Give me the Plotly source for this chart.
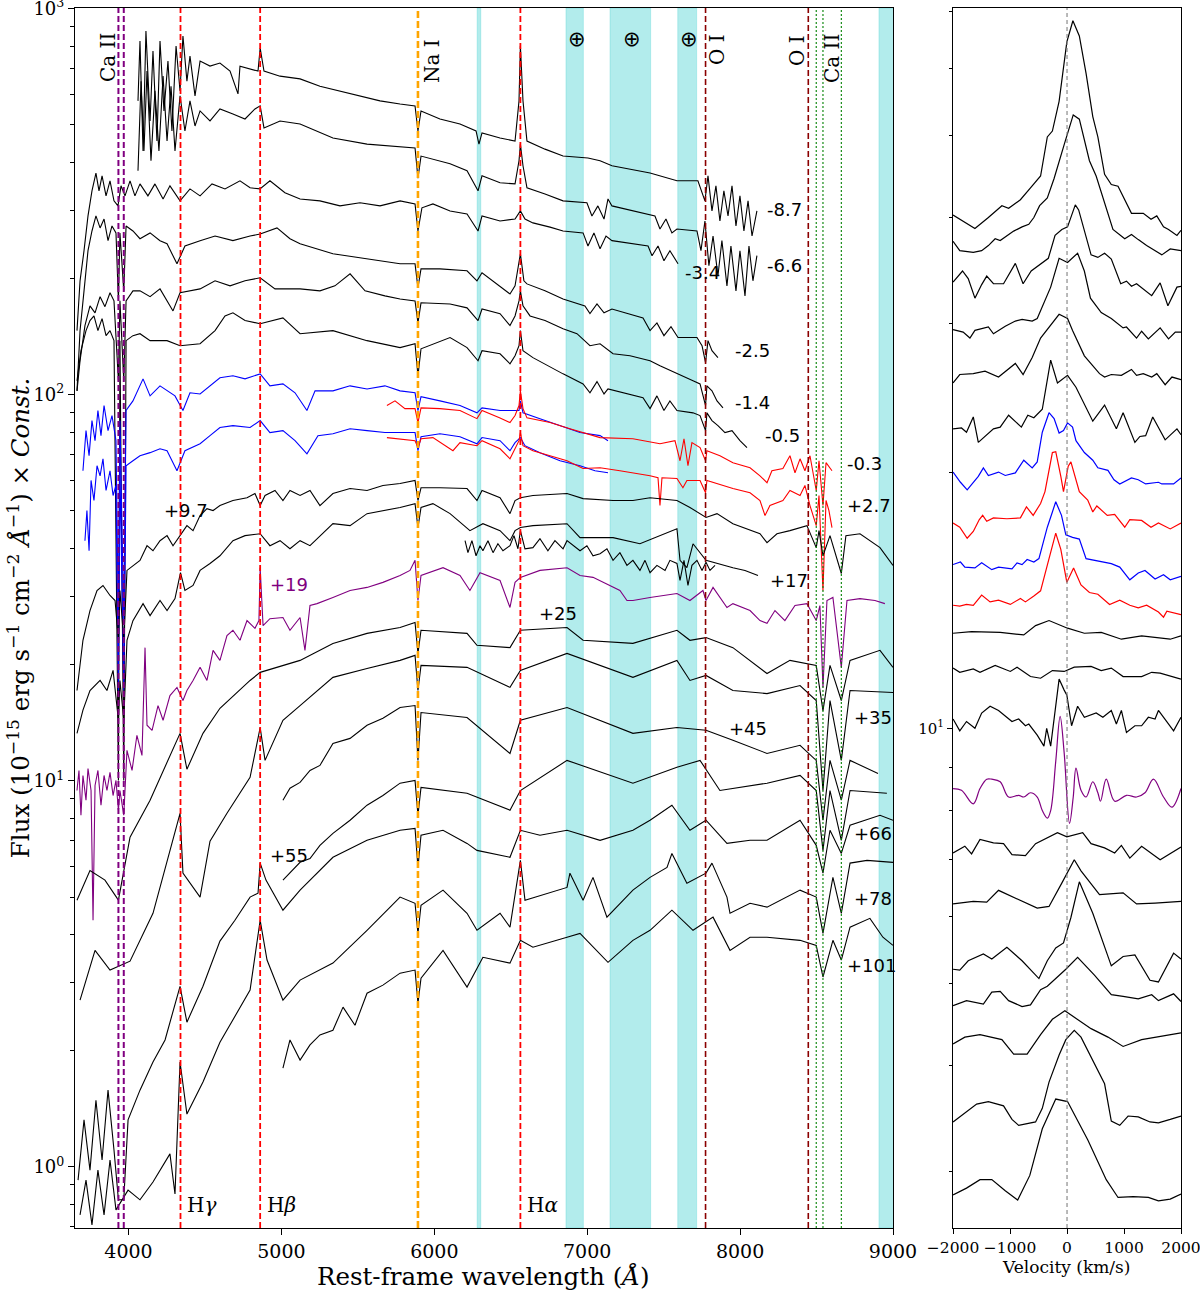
import numpy as np
import plotly.graph_objects as go

# ---------------- Left panel: spectra (wavelength in Angstrom, log10 flux) ----------------
wl_m87 = [4062,4075,4095,4114,4141,4160,4186,4206,4232,4258,4284,4311,4337,4356,4382,4402,4435,4468,4533,4598,4664,4716,4729,4795,4847,4861,4886,4991,5122,5252,5383,5514,5645,5776,5874,5893,5913,6037,6168,6273,6292,6312,6430,6528,6554,6563,6580,6606,6724,6842,7005,7084,7162,7411,7476,7587,7724,7770,7790,7816,7842,7868,7894,7921,7947,7973,7999,8025,8052,8078,8110]
lf_m87 = [2.761,2.916,2.631,2.942,2.709,2.890,2.657,2.916,2.735,2.864,2.683,2.903,2.787,2.929,2.812,2.877,2.774,2.864,2.851,2.859,2.838,2.779,2.851,2.843,2.838,2.898,2.838,2.825,2.818,2.799,2.787,2.774,2.761,2.753,2.748,2.683,2.735,2.714,2.701,2.683,2.649,2.678,2.665,2.657,2.761,2.903,2.761,2.657,2.636,2.618,2.613,2.606,2.593,2.574,2.567,2.554,2.554,2.502,2.567,2.476,2.541,2.450,2.528,2.463,2.541,2.437,2.515,2.424,2.502,2.411,2.476]

wl_m66 = [4062,4082,4101,4121,4147,4173,4199,4226,4252,4278,4304,4337,4369,4402,4435,4468,4533,4598,4683,4762,4827,4861,4886,4991,5122,5337,5560,5874,5893,5913,6103,6214,6286,6312,6430,6528,6554,6563,6580,6606,6724,6842,6998,7031,7070,7110,7136,7162,7443,7476,7515,7554,7587,7718,7744,7770,7796,7823,7855,7881,7914,7940,7973,7999,8032,8058,8084,8110]
lf_m66 = [2.580,2.812,2.631,2.838,2.606,2.787,2.631,2.825,2.657,2.799,2.631,2.774,2.683,2.761,2.696,2.735,2.709,2.740,2.727,2.714,2.740,2.748,2.691,2.709,2.701,2.665,2.649,2.639,2.561,2.618,2.598,2.580,2.528,2.567,2.549,2.546,2.606,2.649,2.593,2.536,2.520,2.502,2.497,2.463,2.489,2.455,2.507,2.489,2.463,2.429,2.455,2.419,2.429,2.424,2.373,2.450,2.334,2.411,2.308,2.399,2.282,2.385,2.269,2.373,2.256,2.385,2.295,2.360]

wl_m34 = [3663,3683,3709,3735,3761,3787,3807,3827,3853,3879,3905,3931,3951,3977,4010,4042,4075,4127,4173,4226,4271,4337,4402,4468,4546,4631,4729,4795,4860,4925,5023,5122,5252,5383,5514,5645,5776,5874,5893,5919,5991,6103,6214,6286,6312,6430,6528,6563,6593,6645,6757,6842,6973,7005,7044,7084,7123,7162,7398,7424,7463,7502,7541,7594]
lf_m34 = [2.166,2.295,2.373,2.463,2.528,2.574,2.528,2.567,2.515,2.554,2.502,2.489,2.541,2.515,2.554,2.515,2.546,2.515,2.546,2.507,2.541,2.502,2.533,2.515,2.546,2.533,2.554,2.536,2.533,2.554,2.523,2.507,2.502,2.489,2.497,2.489,2.502,2.494,2.424,2.484,2.494,2.476,2.468,2.424,2.463,2.450,2.455,2.476,2.455,2.445,2.434,2.424,2.419,2.385,2.419,2.378,2.411,2.399,2.385,2.360,2.385,2.347,2.373,2.339]

wl_m25 = [3663,3683,3709,3735,3761,3787,3814,3840,3866,3892,3918,3934,3944,3969,3984,4029,4075,4141,4206,4252,4317,4369,4468,4566,4683,4795,4861,4971,5056,5122,5337,5560,5776,5874,5893,5913,6037,6214,6279,6312,6430,6495,6528,6563,6586,6606,6724,6842,6985,7018,7064,7110,7162,7365,7411,7456,7502,7548,7594,7718,7751,7774,7790,7816,7855]
lf_m25 = [2.010,2.166,2.269,2.373,2.424,2.463,2.432,2.455,2.399,2.437,2.419,2.243,2.419,2.269,2.437,2.424,2.404,2.419,2.399,2.391,2.339,2.385,2.399,2.411,2.399,2.411,2.416,2.432,2.404,2.391,2.365,2.352,2.339,2.339,2.277,2.326,2.326,2.321,2.295,2.316,2.282,2.261,2.282,2.365,2.295,2.287,2.269,2.248,2.230,2.210,2.235,2.212,2.222,2.199,2.166,2.186,2.153,2.176,2.148,2.148,2.127,2.083,2.140,2.114,2.096]

wl_m14 = [3663,3683,3715,3748,3781,3814,3846,3879,3905,3934,3944,3969,3984,4029,4075,4141,4206,4291,4337,4402,4468,4566,4664,4762,4861,4958,5122,5252,5350,5449,5547,5677,5776,5874,5893,5913,6103,6214,6286,6312,6430,6495,6528,6554,6563,6580,6626,6724,6842,6933,7018,7084,7169,7280,7411,7476,7587,7692,7738,7774,7783,7816,7849,7888]
lf_m14 = [2.010,2.088,2.179,2.230,2.212,2.254,2.228,2.264,2.243,2.036,2.243,2.036,2.243,2.269,2.269,2.254,2.274,2.217,2.264,2.269,2.274,2.295,2.282,2.295,2.303,2.274,2.274,2.269,2.282,2.313,2.269,2.256,2.248,2.243,2.186,2.238,2.235,2.225,2.192,2.222,2.210,2.179,2.204,2.243,2.269,2.230,2.204,2.192,2.171,2.158,2.127,2.132,2.106,2.101,2.088,2.075,2.054,2.036,2.028,1.972,2.023,2.010,1.984,1.966]

wl_m05 = [3663,3689,3722,3748,3774,3800,3827,3853,3879,3905,3934,3944,3969,3984,4029,4075,4141,4252,4337,4468,4566,4631,4683,4762,4861,5010,5122,5337,5560,5776,5874,5893,5913,6103,6214,6286,6312,6430,6495,6528,6554,6563,6580,6645,6842,6973,7018,7064,7110,7136,7365,7411,7456,7502,7541,7587,7692,7738,7774,7783,7816,7855,7901,7947,7999,8045]
lf_m05 = [2.036,2.114,2.166,2.192,2.204,2.166,2.197,2.153,2.166,2.140,1.001,2.140,1.001,2.140,2.153,2.158,2.140,2.140,2.127,2.132,2.166,2.204,2.212,2.192,2.184,2.199,2.158,2.166,2.140,2.122,2.132,2.049,2.119,2.148,2.122,2.088,2.114,2.106,2.080,2.101,2.127,2.166,2.114,2.096,2.054,2.028,2.005,2.034,2.002,2.015,1.992,1.964,1.997,1.959,1.984,1.959,1.953,1.946,1.907,1.953,1.933,1.920,1.902,1.907,1.881,1.863]

wl_b1 = [3702,3722,3742,3761,3781,3800,3820,3840,3866,3892,3918,3934,3944,3969,3984,4029,4095,4141,4206,4252,4304,4356,4402,4468,4533,4598,4683,4762,4861,4925,5010,5089,5167,5220,5337,5449,5560,5677,5776,5874,5893,5913,6037,6168,6279,6312,6430,6554,6563,6580,6691,6822,6953,7084,7136]
lf_b1 = [1.803,1.907,1.842,1.933,1.881,1.959,1.894,1.972,1.907,1.946,1.881,1.415,1.933,1.415,1.959,1.984,2.041,1.997,2.023,2.010,1.997,1.959,2.005,2.002,2.023,2.044,2.049,2.041,2.054,2.023,2.028,2.005,1.959,2.010,2.010,2.023,2.015,2.023,2.010,2.005,1.959,1.995,1.984,1.972,1.953,1.966,1.959,1.959,1.984,1.953,1.938,1.920,1.902,1.894,1.881]

wl_r1 = [5690,5743,5808,5874,5893,5913,6037,6168,6279,6312,6430,6495,6528,6554,6563,6580,6606,6757,6887,6973,7084,7299,7476,7574,7607,7633,7659,7685,7738,7774,7783,7868,7953,8065,8130,8176,8208,8280,8326,8359,8392,8424,8457,8498,8516,8542,8562,8601]
lf_r1 = [1.972,1.984,1.964,1.964,1.928,1.966,1.964,1.959,1.938,1.959,1.940,1.928,1.946,1.972,2.010,1.964,1.940,1.928,1.912,1.902,1.889,1.886,1.873,1.881,1.829,1.886,1.816,1.876,1.863,1.829,1.855,1.842,1.824,1.811,1.790,1.772,1.803,1.809,1.842,1.798,1.834,1.803,1.842,1.752,1.829,1.713,1.824,1.803]

wl_b2 = [3715,3728,3742,3755,3774,3794,3814,3833,3853,3879,3899,3918,3934,3944,3969,3984,4029,4075,4141,4206,4252,4317,4369,4468,4533,4598,4683,4795,4861,4925,5010,5089,5167,5239,5337,5449,5560,5677,5776,5874,5893,5913,6037,6168,6279,6312,6430,6495,6528,6563,6593,6691,6822,6953,7051,7136]
lf_b2 = [1.622,1.700,1.596,1.778,1.726,1.816,1.790,1.834,1.752,1.803,1.739,1.765,1.234,1.803,1.234,1.816,1.829,1.842,1.850,1.860,1.855,1.803,1.855,1.873,1.894,1.915,1.920,1.915,1.933,1.902,1.907,1.881,1.847,1.894,1.899,1.912,1.907,1.902,1.902,1.902,1.855,1.891,1.899,1.891,1.873,1.889,1.881,1.855,1.876,1.889,1.868,1.850,1.829,1.816,1.803,1.798]

wl_r2 = [5690,5776,5874,5893,5913,5991,6122,6168,6279,6312,6430,6495,6528,6554,6563,6580,6645,6757,6868,6973,7084,7214,7299,7411,7463,7476,7489,7587,7626,7652,7738,7774,7783,7849,7953,8065,8130,8163,8195,8280,8326,8392,8424,8457,8498,8516,8542,8562,8581,8601]
lf_r2 = [1.889,1.886,1.881,1.863,1.886,1.889,1.855,1.876,1.868,1.881,1.860,1.834,1.860,1.881,1.902,1.868,1.855,1.842,1.829,1.809,1.811,1.803,1.798,1.790,1.785,1.713,1.785,1.783,1.759,1.778,1.778,1.746,1.778,1.770,1.757,1.746,1.726,1.687,1.713,1.726,1.752,1.739,1.765,1.713,1.661,1.739,1.493,1.726,1.700,1.656]

wl_p97 = [3663,3702,3748,3794,3833,3879,3912,3934,3944,3969,3990,4029,4075,4121,4160,4206,4252,4291,4337,4382,4422,4468,4513,4553,4598,4683,4775,4827,4861,4893,4958,5010,5056,5122,5187,5252,5337,5449,5560,5664,5776,5874,5893,5913,6037,6214,6279,6312,6430,6495,6528,6563,6645,6868,6973,7169,7299,7411,7587,7672,7777,7849,7953,8130,8176,8241,8326,8437,8498,8516,8542,8588,8662,8692,8784,8915,9000]
lf_p97 = [1.234,1.364,1.441,1.493,1.506,1.480,1.467,1.364,1.493,1.364,1.545,1.558,1.571,1.609,1.596,1.622,1.635,1.609,1.635,1.661,1.648,1.687,1.705,1.700,1.713,1.726,1.733,1.744,1.713,1.739,1.752,1.726,1.752,1.739,1.752,1.713,1.744,1.757,1.752,1.765,1.770,1.778,1.726,1.759,1.759,1.757,1.726,1.752,1.733,1.692,1.726,1.733,1.739,1.744,1.731,1.726,1.726,1.733,1.726,1.708,1.682,1.692,1.666,1.640,1.617,1.640,1.648,1.661,1.604,1.648,1.583,1.635,1.537,1.635,1.640,1.604,1.558]

wl_p17 = [3663,3702,3748,3814,3859,3899,3934,3944,3969,3990,4029,4095,4141,4206,4252,4304,4340,4369,4422,4468,4533,4598,4683,4762,4861,4925,4991,5056,5122,5187,5337,5449,5560,5664,5776,5874,5893,5913,5991,6103,6233,6318,6430,6495,6528,6563,6645,6868,6953,7169,7345,7587,7607,7652,7692,7777,7849,7953,8032,8117]
lf_p17 = [1.123,1.183,1.234,1.260,1.234,1.286,1.157,1.260,1.157,1.364,1.415,1.459,1.428,1.467,1.441,1.472,1.539,1.493,1.506,1.545,1.563,1.583,1.622,1.635,1.640,1.609,1.622,1.601,1.622,1.609,1.666,1.661,1.692,1.700,1.708,1.718,1.656,1.708,1.718,1.692,1.648,1.666,1.648,1.622,1.648,1.656,1.661,1.666,1.630,1.630,1.614,1.653,1.571,1.552,1.614,1.571,1.563,1.552,1.545,1.532]

wl_short = [6201,6220,6246,6273,6299,6318,6351,6384,6416,6449,6495,6521,6547,6563,6593,6645,6691,6743,6789,6842,6868,6907,6953,6998,7038,7084,7129,7169,7214,7260,7299,7345,7378,7411,7456,7509,7541,7587,7607,7633,7659,7685,7718,7751,7777,7803,7836]
lf_short = [1.622,1.591,1.622,1.583,1.609,1.596,1.622,1.591,1.614,1.596,1.609,1.635,1.601,1.648,1.601,1.604,1.627,1.596,1.622,1.601,1.622,1.609,1.596,1.609,1.583,1.588,1.601,1.571,1.591,1.558,1.571,1.545,1.571,1.539,1.558,1.545,1.571,1.563,1.519,1.571,1.506,1.558,1.571,1.545,1.566,1.545,1.558]

wl_p19 = [3663,3676,3689,3702,3722,3735,3755,3768,3781,3800,3820,3840,3859,3879,3899,3918,3934,3944,3969,3990,4023,4055,4088,4108,4121,4154,4193,4226,4271,4317,4356,4382,4422,4468,4513,4553,4598,4644,4683,4729,4775,4827,4853,4861,4880,4925,5010,5056,5122,5154,5187,5233,5337,5449,5560,5664,5776,5841,5874,5893,5913,6057,6168,6233,6299,6430,6495,6528,6563,6691,6868,6953,7038,7149,7214,7260,7299,7411,7587,7672,7757,7777,7823,7914,7953,8065,8130,8176,8228,8293,8359,8437,8498,8522,8542,8568,8607,8662,8699,8784,8882,8947]
lf_p19 = [0.975,1.027,0.911,1.014,0.950,1.032,0.975,0.639,0.988,1.027,0.937,1.014,0.975,1.022,0.962,1.001,0.924,0.975,0.911,1.079,1.027,1.118,1.066,1.345,1.144,1.131,1.195,1.157,1.221,1.242,1.208,1.234,1.260,1.294,1.260,1.338,1.312,1.376,1.390,1.364,1.415,1.395,1.415,1.552,1.402,1.420,1.423,1.390,1.423,1.338,1.454,1.459,1.475,1.493,1.501,1.514,1.532,1.545,1.571,1.467,1.532,1.552,1.532,1.493,1.539,1.519,1.449,1.514,1.527,1.545,1.552,1.532,1.527,1.506,1.493,1.467,1.467,1.475,1.485,1.467,1.493,1.467,1.501,1.449,1.459,1.441,1.415,1.408,1.441,1.415,1.454,1.459,1.415,1.454,1.242,1.467,1.475,1.294,1.467,1.472,1.467,1.459]

wl_p25 = [3663,3748,3846,3934,4010,4141,4337,4382,4487,4598,4795,4861,5122,5337,5560,5776,5874,5893,5913,6214,6279,6495,6563,6868,6973,7299,7587,7672,7777,7953,8176,8326,8498,8542,8588,8662,8719,8915,9000]
lf_p25 = [0.691,0.768,0.743,0.691,0.854,0.950,1.123,1.030,1.123,1.188,1.260,1.281,1.312,1.356,1.382,1.397,1.410,1.330,1.390,1.382,1.351,1.345,1.390,1.397,1.364,1.356,1.390,1.364,1.371,1.345,1.278,1.312,1.299,1.182,1.299,1.208,1.312,1.338,1.294]

wl_p35 = [3683,3781,3879,4010,4160,4337,4356,4468,4533,4644,4795,4861,4893,5010,5122,5337,5560,5776,5874,5893,5913,6214,6495,6563,6868,7299,7587,7672,7777,7953,8176,8392,8498,8542,8588,8662,8719,9000]
lf_p35 = [0.432,0.561,0.510,0.533,0.657,0.916,0.761,0.699,0.844,0.916,1.009,1.138,1.053,1.157,1.195,1.268,1.291,1.312,1.325,1.234,1.299,1.294,1.242,1.286,1.330,1.268,1.312,1.260,1.273,1.234,1.226,1.247,1.208,0.975,1.208,1.053,1.234,1.229]

wl_p45 = [5010,5056,5122,5187,5252,5337,5449,5560,5664,5776,5874,5893,5913,6214,6495,6563,6868,7299,7587,7777,7953,8176,8392,8498,8542,8588,8662,8719,8902]
lf_p45 = [0.950,0.981,0.996,1.027,1.040,1.097,1.110,1.144,1.162,1.190,1.195,1.053,1.177,1.164,1.071,1.157,1.190,1.123,1.138,1.131,1.105,1.071,1.092,1.053,0.898,1.053,0.950,1.053,1.019]

wl_p55 = [5010,5056,5122,5187,5252,5337,5449,5560,5664,5776,5874,5893,5913,6214,6495,6563,6868,7299,7587,7738,7868,8176,8392,8498,8542,8588,8662,8719,8960]
lf_p55 = [0.743,0.763,0.789,0.799,0.833,0.864,0.898,0.937,0.962,0.994,1.001,0.911,0.983,0.968,0.924,0.975,1.053,0.994,1.035,1.053,0.975,0.994,1.014,0.975,0.820,0.975,0.846,0.975,0.968]

wl_p66 = [3670,3709,3748,3787,3827,3866,3905,3934,3969,3997,4075,4160,4239,4337,4382,4487,4598,4696,4795,4847,4861,4899,5010,5122,5337,5560,5776,5874,5893,5913,6057,6214,6279,6495,6563,6691,6868,7084,7299,7411,7554,7672,7777,7914,8065,8176,8392,8498,8542,8588,8662,8719,8915,9000]
lf_p66 = [-0.034,0.122,-0.008,0.173,0.018,0.199,0.044,-0.085,-0.085,0.122,0.199,0.272,0.329,0.468,0.375,0.468,0.585,0.639,0.699,0.709,0.787,0.743,0.665,0.717,0.802,0.846,0.872,0.877,0.776,0.859,0.872,0.838,0.820,0.802,0.872,0.859,0.872,0.846,0.872,0.898,0.937,0.872,0.898,0.838,0.846,0.846,0.898,0.833,0.761,0.872,0.812,0.885,0.911,0.898]

wl_p78 = [3683,3722,3761,3800,3840,3879,3918,3997,4075,4160,4271,4304,4337,4382,4487,4598,4795,4861,4906,5010,5122,5337,5560,5776,5874,5893,5913,6057,6214,6279,6430,6495,6563,6593,6868,6887,6973,7038,7129,7299,7411,7522,7554,7652,7777,7816,7914,7934,8065,8176,8392,8498,8542,8607,8662,8719,8830,9000]
lf_p78 = [-0.124,-0.034,-0.150,-0.008,-0.124,0.018,-0.111,-0.060,-0.085,-0.039,0.034,-0.070,0.272,0.137,0.220,0.323,0.458,0.639,0.536,0.432,0.484,0.528,0.613,0.699,0.683,0.605,0.678,0.717,0.657,0.613,0.657,0.621,0.794,0.691,0.724,0.761,0.691,0.750,0.647,0.717,0.750,0.776,0.812,0.735,0.761,0.787,0.699,0.657,0.683,0.673,0.717,0.699,0.605,0.750,0.657,0.787,0.794,0.789]

wl_p101 = [5010,5056,5122,5187,5252,5337,5403,5481,5560,5664,5776,5874,5893,5913,6057,6214,6318,6495,6563,6645,6868,6953,7136,7299,7411,7554,7692,7823,7934,8065,8176,8392,8498,8542,8607,8662,8719,8849,8934,9000]
lf_p101 = [0.256,0.329,0.277,0.316,0.342,0.354,0.414,0.367,0.450,0.471,0.502,0.510,0.424,0.489,0.561,0.466,0.543,0.528,0.587,0.569,0.595,0.605,0.530,0.587,0.613,0.665,0.613,0.647,0.561,0.595,0.595,0.587,0.574,0.492,0.587,0.536,0.621,0.644,0.595,0.574]

# ---------------- Right panel: H-alpha velocity profiles (km/s, log10 flux) ----------------
v_01 = [-2000,-1616,-1380,-1143,-1025,-818,-641,-464,-346,-257,-139,-3,103,216,334,452,541,659,777,895,1131,1338,1474,1575,1693,1781,1929,2000]
f_01 = [1.605,1.589,1.602,1.616,1.613,1.623,1.637,1.651,1.697,1.704,1.739,1.809,1.834,1.816,1.772,1.721,1.697,1.653,1.641,1.639,1.607,1.607,1.600,1.604,1.591,1.588,1.581,1.587]
v_02 = [-2000,-1882,-1645,-1498,-1380,-1261,-1173,-1025,-936,-789,-671,-582,-481,-346,-227,-50,109,216,393,511,659,806,1013,1131,1250,1397,1663,1811,2000]
f_02 = [1.574,1.563,1.561,1.563,1.569,1.577,1.575,1.582,1.586,1.591,1.594,1.602,1.616,1.625,1.648,1.688,1.723,1.718,1.669,1.651,1.618,1.588,1.577,1.582,1.576,1.569,1.558,1.565,1.563]
v_03 = [-2000,-1834,-1734,-1616,-1498,-1409,-1291,-1114,-907,-771,-629,-464,-328,-210,-91,9,145,204,422,541,659,777,942,1043,1131,1220,1486,1634,1770,1929,2000]
f_03 = [1.526,1.539,1.530,1.507,1.523,1.533,1.524,1.524,1.548,1.524,1.539,1.547,1.554,1.581,1.588,1.591,1.617,1.611,1.558,1.555,1.560,1.553,1.524,1.527,1.521,1.524,1.510,1.525,1.498,1.520,1.521]
v_04 = [-2000,-1823,-1704,-1616,-1380,-1291,-1084,-907,-789,-611,-523,-287,-139,9,186,304,411,600,777,984,1043,1220,1309,1427,1634,1781,1900,2000]
f_04 = [1.470,1.467,1.460,1.469,1.473,1.465,1.474,1.480,1.482,1.480,1.483,1.520,1.554,1.549,1.560,1.539,1.507,1.490,1.483,1.472,1.473,1.460,1.468,1.459,1.472,1.459,1.467,1.467]
v_05 = [-2000,-1882,-1645,-1439,-1202,-907,-771,-611,-464,-227,-139,9,97,304,570,659,777,954,1131,1220,1338,1486,1575,1722,1841,2000]
f_05 = [1.407,1.417,1.418,1.421,1.414,1.430,1.417,1.437,1.460,1.480,1.488,1.483,1.469,1.439,1.418,1.414,1.417,1.416,1.423,1.416,1.418,1.414,1.418,1.405,1.414,1.411]
v_06 = [-2000,-1852,-1764,-1645,-1557,-1291,-1173,-1025,-801,-688,-582,-434,-287,-168,9,157,452,659,866,984,1191,1279,1380,1504,1722,1929,2000]
f_06 = [1.353,1.354,1.349,1.367,1.337,1.353,1.355,1.369,1.355,1.369,1.366,1.376,1.434,1.407,1.416,1.402,1.362,1.381,1.353,1.372,1.337,1.344,1.345,1.367,1.340,1.353,1.346]
v_07 = [-2000,-1870,-1752,-1557,-1468,-1380,-1202,-1084,-907,-759,-611,-523,-434,-316,-227,-139,-62,9,97,157,304,452,541,718,824,925,1131,1250,1380,1604,1663,1870,2000]
f_07 = [1.302,1.290,1.281,1.297,1.307,1.298,1.302,1.298,1.301,1.316,1.307,1.314,1.349,1.372,1.365,1.348,1.351,1.360,1.355,1.339,1.325,1.316,1.307,1.304,1.293,1.288,1.295,1.293,1.288,1.290,1.288,1.288,1.295]
v_08 = [-2000,-1882,-1752,-1645,-1539,-1480,-1409,-1291,-1055,-818,-712,-594,-464,-387,-257,-198,-109,-62,21,68,216,363,452,523,706,836,1013,1102,1309,1474,1604,1811,2000]
f_08 = [1.242,1.237,1.224,1.232,1.246,1.251,1.244,1.248,1.247,1.248,1.261,1.251,1.265,1.279,1.325,1.326,1.297,1.279,1.309,1.314,1.279,1.269,1.255,1.262,1.251,1.252,1.237,1.246,1.245,1.237,1.242,1.235,1.242]
v_09 = [-2000,-1870,-1793,-1616,-1498,-1320,-1202,-966,-877,-789,-700,-582,-493,-346,-257,-198,-97,-21,97,216,334,541,777,925,1102,1250,1368,1545,1693,1811,2000]
f_09 = [1.193,1.196,1.190,1.189,1.195,1.187,1.190,1.188,1.195,1.193,1.199,1.196,1.200,1.237,1.255,1.267,1.251,1.228,1.225,1.223,1.200,1.197,1.194,1.190,1.175,1.183,1.186,1.176,1.181,1.175,1.179]
v_10 = [-2000,-1882,-1764,-1645,-1498,-1350,-1202,-995,-818,-730,-582,-464,-316,-198,-109,-3,115,245,393,541,747,925,1102,1250,1397,1604,1693,1752,2000]
f_10 = [1.145,1.144,1.146,1.145,1.157,1.149,1.151,1.146,1.153,1.149,1.156,1.162,1.200,1.230,1.211,1.172,1.189,1.169,1.160,1.158,1.146,1.151,1.145,1.142,1.145,1.137,1.131,1.138,1.134]
v_11 = [-2000,-1675,-1173,-759,-552,-316,9,304,600,954,1309,1811,2000]
f_11 = [1.112,1.114,1.113,1.110,1.121,1.127,1.118,1.112,1.113,1.105,1.109,1.105,1.109]
v_12 = [-2000,-1882,-1645,-1527,-1261,-995,-877,-641,-464,-257,-50,127,422,600,777,984,1309,1486,1634,2000]
f_12 = [1.071,1.066,1.070,1.066,1.074,1.067,1.072,1.061,1.059,1.068,1.067,1.072,1.073,1.068,1.071,1.061,1.061,1.066,1.065,1.058]
v_13 = [-2000,-1882,-1764,-1616,-1498,-1350,-1202,-1114,-966,-848,-730,-671,-523,-405,-357,-287,-198,-139,-50,-3,80,186,304,511,629,777,866,954,1043,1191,1309,1427,1545,1604,1870,2000]
f_13 = [1.011,0.997,1.008,1.000,1.018,1.026,1.021,1.016,1.008,1.011,1.003,1.005,0.992,0.979,1.000,0.979,1.026,1.058,1.045,1.039,1.003,1.026,1.013,1.018,1.013,1.021,1.005,1.021,0.995,1.003,1.003,1.013,1.011,1.021,0.997,1.013]
v_14 = [-2000,-1852,-1645,-1527,-1409,-1320,-1173,-1025,-848,-759,-641,-523,-434,-346,-287,-198,-121,-50,44,109,157,245,334,452,541,588,688,836,1043,1220,1368,1516,1693,1841,2000]
f_14 = [0.929,0.927,0.911,0.929,0.940,0.940,0.937,0.919,0.921,0.919,0.924,0.919,0.903,0.894,0.903,0.961,1.014,0.971,0.888,0.919,0.953,0.927,0.919,0.937,0.924,0.914,0.940,0.914,0.921,0.919,0.924,0.940,0.919,0.907,0.929]
v_15 = [-2000,-1793,-1675,-1527,-1291,-1114,-966,-730,-552,-168,-3,275,422,659,836,954,1102,1309,1634,2000]
f_15 = [0.853,0.861,0.852,0.869,0.865,0.864,0.851,0.850,0.864,0.877,0.872,0.877,0.864,0.859,0.853,0.862,0.847,0.861,0.845,0.860]
v_16 = [-2000,-1645,-1409,-1202,-523,-316,-80,127,245,570,984,1220,1545,2000]
f_16 = [0.793,0.796,0.795,0.809,0.788,0.790,0.819,0.845,0.832,0.804,0.806,0.793,0.794,0.796]
v_17 = [-2000,-1882,-1734,-1468,-1320,-1055,-789,-493,-346,-198,-62,68,216,452,777,984,1191,1456,1604,1870,2000]
f_17 = [0.716,0.715,0.726,0.734,0.728,0.742,0.726,0.705,0.726,0.741,0.747,0.777,0.819,0.782,0.720,0.731,0.733,0.703,0.701,0.735,0.728]
v_18 = [-2000,-1764,-1468,-1320,-1173,-1025,-789,-641,-464,-346,-21,186,481,777,984,1250,1486,1604,1870,2000]
f_18 = [0.673,0.679,0.675,0.689,0.690,0.679,0.672,0.674,0.692,0.696,0.716,0.730,0.709,0.686,0.684,0.681,0.686,0.679,0.687,0.678]
v_19 = [-2000,-1793,-1527,-1143,-936,-700,-464,-257,-38,186,422,718,984,1309,2000]
f_19 = [0.628,0.636,0.639,0.633,0.616,0.616,0.639,0.657,0.667,0.657,0.646,0.636,0.625,0.633,0.641]
v_20 = [-2000,-1793,-1586,-1380,-1114,-966,-848,-552,-434,-316,-139,-21,127,245,481,659,777,925,1072,1250,1456,1604,1811,2000]
f_20 = [0.536,0.547,0.557,0.560,0.555,0.539,0.532,0.536,0.552,0.583,0.615,0.633,0.644,0.636,0.604,0.581,0.537,0.532,0.543,0.542,0.536,0.535,0.539,0.543]
v_21 = [-2000,-1764,-1527,-1320,-1084,-866,-653,-434,-198,9,363,688,895,1161,1427,1604,1811,2000]
f_21 = [0.450,0.458,0.468,0.468,0.455,0.444,0.473,0.528,0.563,0.560,0.515,0.468,0.447,0.448,0.447,0.443,0.445,0.451]

# ---------------- Annotation content ----------------
line_ids = [("Ca II", 3866, 2.872), ("Na I", 5985, 2.864), ("O I", 7849, 2.893), ("O I", 8372, 2.893), ("Ca II", 8601, 2.872)]
earth_wl = [6933, 7293, 7666]
h_labels = [("H<i>γ</i>", 4369), ("H<i>β</i>", 4893), ("H<i>α</i>", 6593)]
phase_labels = [("-8.7", 8163, 2.479, "black"), ("-6.6", 8163, 2.334, "black"), ("-3.4", 7626, 2.316, "black"),
                ("-2.5", 7953, 2.114, "black"), ("-1.4", 7953, 1.979, "black"), ("-0.5", 8150, 1.894, "black"),
                ("-0.3", 8686, 1.821, "black"), ("+2.7", 8686, 1.713, "black"), ("+9.7", 4219, 1.700, "black"),
                ("+17", 8182, 1.519, "black"), ("+19", 4912, 1.508, "purple"), ("+25", 6671, 1.433, "black"),
                ("+35", 8732, 1.164, "black"), ("+45", 7914, 1.136, "black"), ("+55", 4912, 0.807, "black"),
                ("+66", 8732, 0.864, "black"), ("+78", 8732, 0.696, "black"), ("+101", 8686, 0.523, "black")]
telluric_bands = [(6280, 6304), (6861, 6975), (7149, 7415), (7592, 7716), (8908, 9100)]
ca_hk = [3934, 3969]
balmer = [4340, 4861, 6563]
na_d = [5893]
o_i = [7774, 8446]
ca_trip = [8498, 8542, 8662]

SERIF = "DejaVu Serif"
SANS = "DejaVu Sans"

fig = go.Figure()

main = [(wl_m87, lf_m87, "black"), (wl_m66, lf_m66, "black"), (wl_m34, lf_m34, "black"),
        (wl_m25, lf_m25, "black"), (wl_m14, lf_m14, "black"), (wl_m05, lf_m05, "black"),
        (wl_b1, lf_b1, "blue"), (wl_r1, lf_r1, "red"), (wl_b2, lf_b2, "blue"), (wl_r2, lf_r2, "red"),
        (wl_p97, lf_p97, "black"), (wl_p17, lf_p17, "black"), (wl_short, lf_short, "black"),
        (wl_p19, lf_p19, "purple"), (wl_p25, lf_p25, "black"), (wl_p35, lf_p35, "black"),
        (wl_p45, lf_p45, "black"), (wl_p55, lf_p55, "black"), (wl_p66, lf_p66, "black"),
        (wl_p78, lf_p78, "black"), (wl_p101, lf_p101, "black")]
for wl, lf, col in main:
    fig.add_trace(go.Scatter(x=wl, y=10 ** np.array(lf), mode="lines", line=dict(color=col, width=1.1),
                             xaxis="x", yaxis="y", showlegend=False, hoverinfo="skip"))

right = [(v_01, f_01, "black"), (v_02, f_02, "black"), (v_03, f_03, "black"), (v_04, f_04, "black"),
         (v_05, f_05, "black"), (v_06, f_06, "black"), (v_07, f_07, "blue"), (v_08, f_08, "red"),
         (v_09, f_09, "blue"), (v_10, f_10, "red"), (v_11, f_11, "black"), (v_12, f_12, "black"),
         (v_13, f_13, "black"), (v_14, f_14, "purple"), (v_15, f_15, "black"), (v_16, f_16, "black"),
         (v_17, f_17, "black"), (v_18, f_18, "black"), (v_19, f_19, "black"), (v_20, f_20, "black"),
         (v_21, f_21, "black")]
for v, f, col in right:
    shape = "spline" if col == "purple" else "linear"
    fig.add_trace(go.Scatter(x=v, y=10 ** np.array(f), mode="lines", line=dict(color=col, width=1.2, shape=shape),
                             xaxis="x2", yaxis="y2", showlegend=False, hoverinfo="skip"))

shapes = []
for a, b in telluric_bands:
    shapes.append(dict(type="rect", xref="x", yref="y domain", x0=a, x1=b, y0=0, y1=1,
                       fillcolor="rgba(0,191,191,0.3)", line=dict(width=0.6, color="rgba(0,191,191,0.35)"), layer="below"))
def vline(x, color, dash, width):
    shapes.append(dict(type="line", xref="x", yref="y domain", x0=x, x1=x, y0=0, y1=1,
                       line=dict(color=color, dash=dash, width=width), layer="above"))
for x in ca_hk:
    vline(x, "purple", "6px,3px", 2)
for x in balmer:
    vline(x, "red", "6px,3px", 1.8)
for x in na_d:
    vline(x, "orange", "7px,3px", 2.6)
for x in o_i:
    vline(x, "#8b0000", "6px,3px", 1.6)
for x in ca_trip:
    vline(x, "green", "2px,2px", 1.1)
shapes.append(dict(type="line", xref="x2", yref="y2 domain", x0=0, x1=0, y0=0, y1=1,
                   line=dict(color="grey", dash="4px,3px", width=1.1), layer="above"))

ann = []
for txt, x, y in line_ids:
    ann.append(dict(x=x, y=y, xref="x", yref="y", text=txt, showarrow=False, textangle=-90,
                    font=dict(family=SERIF, size=20, color="black"), xanchor="center", yanchor="middle"))
for x in earth_wl:
    ann.append(dict(x=x, y=2.921, xref="x", yref="y", text="⊕", showarrow=False,
                    font=dict(family=SANS, size=21, color="black"), xanchor="center", yanchor="middle"))
for txt, x in h_labels:
    ann.append(dict(x=x, y=-0.098, xref="x", yref="y", text=txt, showarrow=False,
                    font=dict(family=SERIF, size=20, color="black"), xanchor="left", yanchor="middle"))
for txt, x, y, col in phase_labels:
    ann.append(dict(x=x, y=y, xref="x", yref="y", text=txt, showarrow=False,
                    font=dict(family=SANS, size=18, color=col), xanchor="left", yanchor="middle"))
ann.append(dict(x=-0.0505, y=0.5, xref="paper", yref="paper", textangle=-90, showarrow=False,
                text="Flux (10<sup>−15</sup> erg s<sup>−1</sup> cm<sup>−2</sup> <i>Å</i><sup>−1</sup>) × <i>Const.</i>",
                font=dict(family=SERIF, size=24.5, color="black"), xanchor="center", yanchor="middle"))
ann.append(dict(x=0.3698, y=-0.0395, xref="paper", yref="paper", showarrow=False,
                text="Rest-frame wavelength (<i>Å</i>)",
                font=dict(family=SERIF, size=24.5, color="black"), xanchor="center", yanchor="middle"))
ann.append(dict(x=0.896, y=-0.0320, xref="paper", yref="paper", showarrow=False,
                text="Velocity (km/s)", font=dict(family=SERIF, size=17, color="black"),
                xanchor="center", yanchor="middle"))

main_minor = [m * 10 ** d for d in range(-1, 3) for m in range(2, 10)]
right_minor = [3, 4, 5, 6, 7, 8, 9, 20, 30, 40, 50, 60, 70]

axis_common = dict(showline=True, linecolor="black", linewidth=1.2, mirror=True, showgrid=False,
                   zeroline=False, ticks="outside", tickcolor="black", tickwidth=1.2, automargin=False)

fig.update_layout(
    width=1200, height=1291, margin=dict(l=75, r=19, t=8, b=63, autoexpand=False),
    paper_bgcolor="white", plot_bgcolor="white", hovermode=False, showlegend=False,
    xaxis=dict(domain=[0, 0.7396], range=[3650, 9000], tickvals=[4000, 5000, 6000, 7000, 8000, 9000],
               ticklen=6, tickfont=dict(family=SERIF, size=19, color="black"), anchor="y", **axis_common),
    yaxis=dict(domain=[0, 1], type="log", range=[-0.158, 3.0015], tickvals=[1, 10, 100, 1000],
               ticktext=["10<sup>0</sup>", "10<sup>1</sup>", "10<sup>2</sup>", "10<sup>3</sup>"],
               ticklen=6, tickfont=dict(family=SERIF, size=18, color="black"), anchor="x",
               ticklabeloverflow="allow",
               minor=dict(tickvals=main_minor, ticks="outside", ticklen=3.5, tickcolor="black", tickwidth=1),
               **axis_common),
    xaxis2=dict(domain=[0.7939, 1.0], range=[-2000, 2000], tickvals=[-2000, -1000, 0, 1000, 2000],
                ticktext=["−2000", "−1000", "0", "1000", "2000"], ticklen=5,
                tickfont=dict(family=SERIF, size=15.5, color="black"), anchor="y2",
                ticklabeloverflow="allow", **axis_common),
    yaxis2=dict(domain=[0, 1], type="log", range=[0.411, 1.849], tickvals=[10], ticktext=["10<sup>1</sup>"],
                ticklen=5, tickfont=dict(family=SERIF, size=15, color="black"), anchor="x2",
                minor=dict(tickvals=right_minor, ticks="outside", ticklen=3, tickcolor="black", tickwidth=1),
                **axis_common),
    shapes=shapes, annotations=ann,
)

fig.write_html("out.html")
